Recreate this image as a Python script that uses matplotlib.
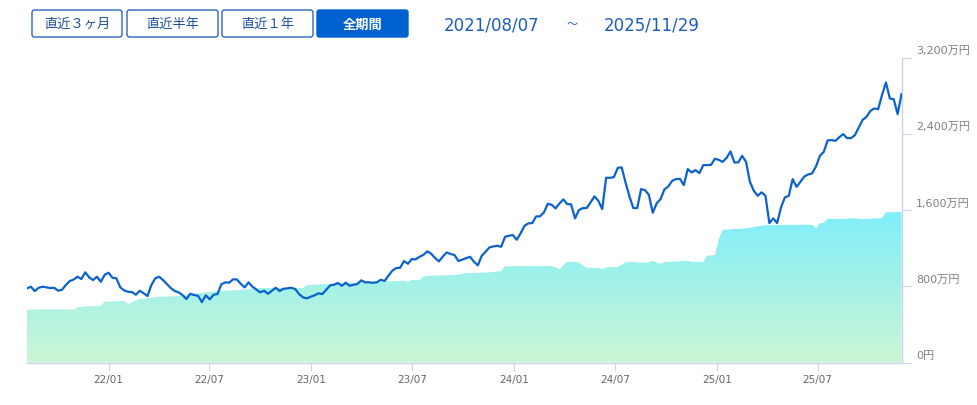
import numpy as np
import pandas as pd
import matplotlib
matplotlib.use('Agg')
import matplotlib.pyplot as plt
import matplotlib.dates as mdates
from matplotlib.patches import FancyBboxPatch
from matplotlib.colors import LinearSegmentedColormap
from matplotlib.ticker import FixedLocator
import matplotlib.transforms as mtransforms

plt.rcParams['font.family'] = ['DejaVu Sans', 'Noto Sans CJK JP']

# weekly valuation and invested amount (万円)
dates = pd.date_range('2021-08-07', '2025-11-29', freq='7D')

valuation = [
    778, 795, 750, 784, 795, 788, 781, 784, 753, 763,
    813, 855, 870, 900, 876, 946, 893, 865, 900, 847,
    921, 942, 889, 883, 788, 757, 742, 739, 711, 753,
    726, 697, 813, 883, 900, 865, 823, 781, 750, 736,
    708, 666, 721, 708, 700, 634, 705, 663, 711, 718,
    820, 841, 837, 872, 872, 826, 788, 841, 795, 765,
    736, 753, 721, 753, 784, 750, 774, 778, 784, 771,
    718, 684, 673, 690, 705, 726, 718, 763, 809, 816,
    834, 805, 837, 805, 816, 823, 862, 841, 841, 837,
    841, 868, 855, 910, 963, 991, 994, 1064, 1036, 1085,
    1082, 1109, 1130, 1166, 1141, 1096, 1061, 1113, 1155, 1138,
    1127, 1064, 1080, 1095, 1109, 1057, 1019, 1120, 1162, 1208,
    1218, 1225, 1214, 1319, 1330, 1337, 1288, 1355, 1434, 1460,
    1463, 1533, 1533, 1575, 1665, 1655, 1617, 1669, 1711, 1662,
    1659, 1512, 1599, 1620, 1620, 1680, 1743, 1697, 1609, 1938,
    1938, 1945, 2042, 2047, 1889, 1743, 1620, 1620, 1819, 1809,
    1759, 1571, 1669, 1714, 1816, 1847, 1906, 1924, 1927, 1861,
    2029, 1994, 2018, 1987, 2071, 2071, 2074, 2137, 2126, 2105,
    2147, 2214, 2099, 2099, 2168, 2105, 1896, 1801, 1749, 1785,
    1749, 1463, 1512, 1463, 1627, 1732, 1749, 1924, 1843, 1896,
    1952, 1973, 1984, 2057, 2168, 2210, 2330, 2333, 2326, 2364,
    2396, 2354, 2354, 2385, 2466, 2546, 2577, 2640, 2665, 2658,
    2808, 2938, 2770, 2763, 2606, 2815,
]

invested = [
    554, 555, 556, 556, 558, 558, 558, 558, 558, 558,
    556, 555, 554, 579, 584, 589, 590, 592, 594, 596,
    637, 639, 641, 643, 645, 645, 610, 631, 650, 666,
    670, 675, 679, 685, 690, 691, 692, 694, 695, 697,
    700, 711, 716, 721, 726, 731, 736, 740, 745, 750,
    752, 754, 756, 758, 759, 760, 765, 770, 775, 780,
    782, 782, 782, 782, 782, 782, 782, 782, 782, 782,
    782, 782, 813, 815, 817, 819, 821, 823, 825, 827,
    830, 832, 834, 836, 837, 839, 841, 843, 844, 846,
    848, 849, 851, 852, 853, 855, 856, 858, 847, 865,
    866, 868, 900, 910, 911, 912, 914, 915, 916, 918,
    919, 921, 930, 938, 939, 940, 941, 943, 944, 946,
    950, 955, 959, 1009, 1009, 1010, 1010, 1010, 1010, 1011,
    1011, 1011, 1011, 1012, 1012, 1012, 1000, 977, 1020, 1057,
    1055, 1053, 1051, 1020, 994, 993, 992, 991, 977, 998,
    999, 1000, 1001, 1025, 1051, 1054, 1057, 1052, 1046, 1049,
    1051, 1067, 1050, 1036, 1051, 1054, 1057, 1060, 1062, 1065,
    1067, 1054, 1055, 1056, 1057, 1120, 1124, 1127, 1295, 1392,
    1395, 1397, 1400, 1402, 1405, 1407, 1414, 1421, 1428, 1435,
    1442, 1442, 1443, 1443, 1443, 1443, 1444, 1444, 1444, 1445,
    1445, 1445, 1445, 1407, 1460, 1463, 1508, 1507, 1506, 1505,
    1507, 1509, 1512, 1512, 1508, 1505, 1507, 1509, 1511, 1513,
    1515, 1575, 1576, 1577, 1578, 1578,
]

y_ticks = [0, 800, 1600, 2400, 3200]
y_labels = ['0円', '800万円', '1,600万円', '2,400万円', '3,200万円']
buttons = ['直近３ヶ月', '直近半年', '直近１年', '全期間']
period_from = '2021/08/07'
period_to = '2025/11/29'

W, H = 977, 406
fig = plt.figure(figsize=(W / 100, H / 100), dpi=100)
ax = fig.add_axes([27 / W, (H - 363.5) / H, 874.5 / W, 305 / H])

axis_col = '#c9d3e8'
line_col = '#0b62cc'
text_blue = '#1a5cc0'

# gradient area for invested amount
poly = ax.fill_between(dates, invested, 0, color='none', lw=0)
x0, x1 = mdates.date2num(dates[0]), mdates.date2num(dates[-1])
cmap = LinearSegmentedColormap.from_list('inv', ['#cbf6d5', '#80eefa'])
grad = np.linspace(0, 1, 256).reshape(-1, 1)
im = ax.imshow(grad, extent=[x0, x1, 0, max(invested)], origin='lower',
               aspect='auto', cmap=cmap, zorder=1)
im.set_clip_path(poly.get_paths()[0], ax.transData)

ax.plot(dates, valuation, color=line_col, lw=1.6, zorder=3,
        solid_joinstyle='round')

ax.set_xlim(dates[0], dates[-1])
ax.set_ylim(0, 3200)

for s in ['top', 'left']:
    ax.spines[s].set_visible(False)
for s in ['right', 'bottom']:
    ax.spines[s].set_color(axis_col)
    ax.spines[s].set_linewidth(1)

ax.xaxis.set_major_locator(mdates.MonthLocator(bymonth=[1, 7]))
ax.xaxis.set_major_formatter(mdates.DateFormatter('%y/%m'))
ax.tick_params(axis='x', length=6, width=0.8, color=axis_col, labelsize=7.5,
               labelcolor='#666666', pad=2)
ax.yaxis.tick_right()
ax.yaxis.set_major_locator(FixedLocator(y_ticks))
ax.tick_params(axis='y', length=6.5, width=0.8, color=axis_col, labelright=False)

tr = mtransforms.blended_transform_factory(ax.transAxes, ax.transData)
for v, lab in zip(y_ticks, y_labels):
    ax.text(1.0166, v + 25, lab, transform=tr, ha='left', va='bottom',
            fontsize=8, color='#808080',
            family=['DejaVu Sans', 'Noto Sans CJK JP'])

# period buttons
btn_x = [(32, 122), (127, 218), (222, 313), (317, 408)]
by0, by1 = 11, 38
for (a, b), lab in zip(btn_x, buttons):
    active = lab == '全期間'
    box = FancyBboxPatch((a / W, 1 - by1 / H), (b - a) / W, (by1 - by0) / H,
                         boxstyle='round,pad=0,rounding_size=0.0025',
                         mutation_aspect=W / H, transform=fig.transFigure,
                         facecolor='#0061d1' if active else 'white',
                         edgecolor='#0061d1' if active else '#2a66c4', lw=1)
    fig.add_artist(box)
    fig.text((a + b) / 2 / W, 1 - 24.5 / H, lab, ha='center', va='center',
             fontsize=9.5, family='Noto Sans CJK JP',
             color='white' if active else '#1d4f9e',
             fontweight='bold' if active else 'normal')

fig.text(491.5 / W, 1 - 25 / H, period_from, ha='center', va='center',
         fontsize=12, color=text_blue)
fig.text(572 / W, 1 - 25 / H, '～', ha='center', va='center',
         fontsize=8, color=text_blue, family='Noto Sans CJK JP')
fig.text(652 / W, 1 - 25 / H, period_to, ha='center', va='center',
         fontsize=12, color=text_blue)

fig.savefig('out.png', dpi=100)
